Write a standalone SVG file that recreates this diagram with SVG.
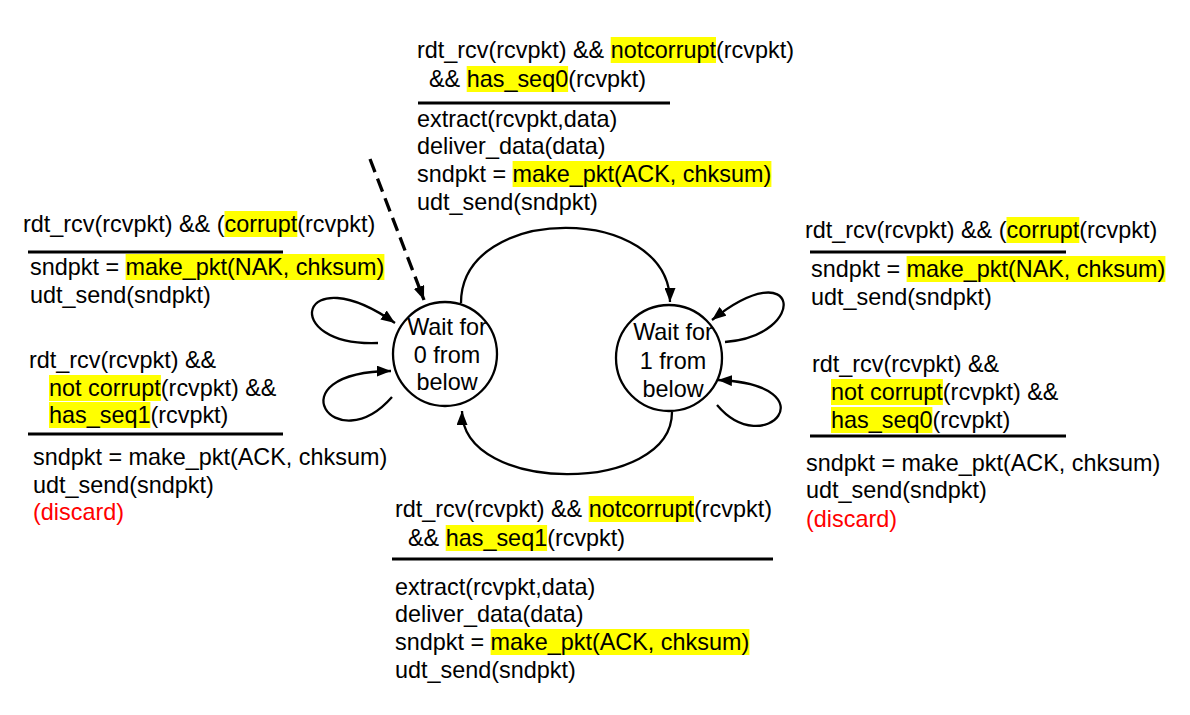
<svg xmlns="http://www.w3.org/2000/svg" width="1190" height="715" viewBox="0 0 1190 715">
<style>
  text { font-family: "Liberation Sans", Arial, sans-serif; font-size: 23.4px; fill: #000; }
  .red { fill: #ff0000; }
  .hl { fill: #ffff00; }
  .sep { stroke: #000; stroke-width: 3; }
  .edge { fill: none; stroke: #000; stroke-width: 2.3; marker-end: url(#arrow); }
  .init { fill: none; stroke: #000; stroke-width: 3.3; stroke-dasharray: 14 7; marker-end: url(#arrow); }
  .state circle { fill: #fff; stroke: #000; stroke-width: 2.3; }
  .state text { text-anchor: middle; }
</style>
<defs>
  <marker id="arrow" viewBox="0 0 14 11" refX="14" refY="5.5" markerWidth="14" markerHeight="11" markerUnits="userSpaceOnUse" orient="auto">
    <path d="M0,0 L14,5.5 L0,11 z" fill="#000"/>
  </marker>
</defs>
<rect width="1190" height="715" fill="#fff"/>

<g id="connectors">
  <path class="init" d="M370,159 L424,300"/>
  <path class="edge" d="M461,303 C461,203 670,203 670,302"/>
  <path class="edge" d="M672,412 C672,495 462,495 462,411"/>
  <path class="edge" d="M378,343 C278,347 298,255 395,323"/>
  <path class="edge" d="M392,397 C335,462 272,372 391,371"/>
  <path class="edge" d="M725,342 C810,335 800,250 712,320"/>
  <path class="edge" d="M717,405 C765,462 832,385 718,380"/>
</g>

<g id="state0" class="state">
  <circle cx="445" cy="354" r="52"/>
  <text x="447" y="335">Wait for</text>
  <text x="447" y="363">0 from</text>
  <text x="447" y="390">below</text>
</g>
<g id="state1" class="state">
  <circle cx="669" cy="358" r="53"/>
  <text x="673" y="340">Wait for</text>
  <text x="673" y="369">1 from</text>
  <text x="673" y="397">below</text>
</g>

<g id="label-top">
  <rect class="hl" x="610.7" y="37" width="105.3" height="26"/>
  <rect class="hl" x="466.7" y="66" width="101.4" height="26"/>
  <rect class="hl" x="512.6" y="161" width="258.8" height="26"/>
  <text x="417" y="58">rdt_rcv(rcvpkt) &amp;&amp; notcorrupt(rcvpkt)</text>
  <text x="429" y="87">&amp;&amp; has_seq0(rcvpkt)</text>
  <line class="sep" x1="418" y1="103" x2="670" y2="103"/>
  <text x="417" y="127">extract(rcvpkt,data)</text>
  <text x="417" y="154">deliver_data(data)</text>
  <text x="417" y="182">sndpkt = make_pkt(ACK, chksum)</text>
  <text x="417" y="210">udt_send(sndpkt)</text>
</g>

<g id="label-left-nak">
  <rect class="hl" x="224.5" y="211" width="72.8" height="26"/>
  <rect class="hl" x="125.6" y="254" width="258.8" height="26"/>
  <text x="23" y="232">rdt_rcv(rcvpkt) &amp;&amp; (corrupt(rcvpkt)</text>
  <line class="sep" x1="28" y1="252" x2="283" y2="252"/>
  <text x="30" y="275">sndpkt = make_pkt(NAK, chksum)</text>
  <text x="30" y="303">udt_send(sndpkt)</text>
</g>

<g id="label-left-dup">
  <rect class="hl" x="49" y="375" width="111.9" height="26"/>
  <rect class="hl" x="49" y="402" width="101.4" height="26"/>
  <text x="29" y="368">rdt_rcv(rcvpkt) &amp;&amp;</text>
  <text x="49" y="396">not corrupt(rcvpkt) &amp;&amp;</text>
  <text x="49" y="423">has_seq1(rcvpkt)</text>
  <line class="sep" x1="28" y1="434" x2="283" y2="434"/>
  <text x="33" y="465">sndpkt = make_pkt(ACK, chksum)</text>
  <text x="33" y="493">udt_send(sndpkt)</text>
  <text class="red" x="33" y="520">(discard)</text>
</g>

<g id="label-right-nak">
  <rect class="hl" x="1006.5" y="217" width="72.8" height="26"/>
  <rect class="hl" x="906.6" y="256" width="258.8" height="26"/>
  <text x="805" y="238">rdt_rcv(rcvpkt) &amp;&amp; (corrupt(rcvpkt)</text>
  <line class="sep" x1="810" y1="252" x2="1066" y2="252"/>
  <text x="811" y="277">sndpkt = make_pkt(NAK, chksum)</text>
  <text x="811" y="305">udt_send(sndpkt)</text>
</g>

<g id="label-right-dup">
  <rect class="hl" x="831" y="379" width="111.9" height="26"/>
  <rect class="hl" x="831" y="407" width="101.4" height="26"/>
  <text x="812" y="372">rdt_rcv(rcvpkt) &amp;&amp;</text>
  <text x="831" y="400">not corrupt(rcvpkt) &amp;&amp;</text>
  <text x="831" y="428">has_seq0(rcvpkt)</text>
  <line class="sep" x1="810" y1="436" x2="1066" y2="436"/>
  <text x="806" y="471">sndpkt = make_pkt(ACK, chksum)</text>
  <text x="806" y="498">udt_send(sndpkt)</text>
  <text class="red" x="806" y="527">(discard)</text>
</g>

<g id="label-bottom">
  <rect class="hl" x="588.7" y="496" width="105.3" height="26"/>
  <rect class="hl" x="445.7" y="525" width="101.4" height="26"/>
  <rect class="hl" x="490.6" y="629" width="258.8" height="26"/>
  <text x="395" y="517">rdt_rcv(rcvpkt) &amp;&amp; notcorrupt(rcvpkt)</text>
  <text x="408" y="546">&amp;&amp; has_seq1(rcvpkt)</text>
  <line class="sep" x1="392" y1="559" x2="773" y2="559"/>
  <text x="395" y="595">extract(rcvpkt,data)</text>
  <text x="395" y="622">deliver_data(data)</text>
  <text x="395" y="650">sndpkt = make_pkt(ACK, chksum)</text>
  <text x="395" y="678">udt_send(sndpkt)</text>
</g>
</svg>
